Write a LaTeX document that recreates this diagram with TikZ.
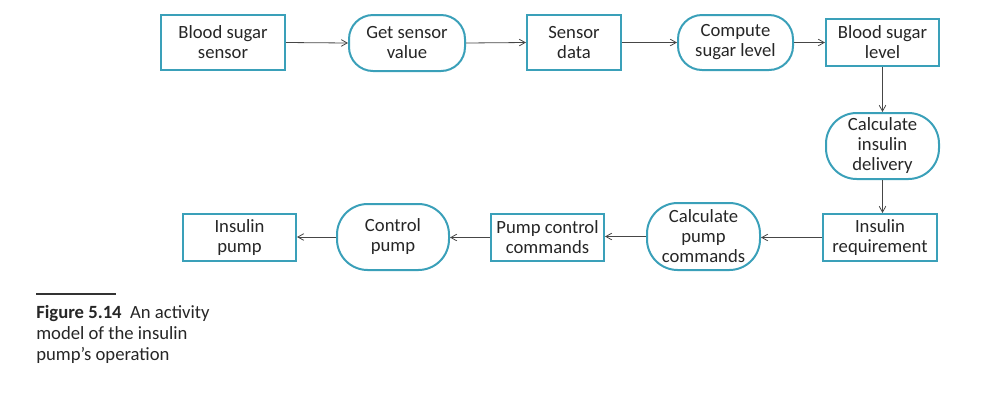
\documentclass[tikz,border=0pt]{standalone}
\usepackage{fontspec}
\setmainfont{Carlito}
\usetikzlibrary{arrows.meta}
\definecolor{boxc}{RGB}{58,160,185}
\definecolor{linec}{RGB}{70,70,70}
\begin{document}
\begin{tikzpicture}[x=0.75pt,y=-0.75pt,
  base/.style={draw=boxc,line width=1.5pt,align=center,inner sep=1pt,
    font=\fontsize{14pt}{15pt}\selectfont,text=black!85},
  datab/.style={base},
  actb/.style={base,rounded corners=18pt},
  flow/.style={draw=linec,line width=0.6pt,-{Straight Barb[length=4.5pt,width=5pt,line width=0.6pt]}}]
\useasboundingbox (0,0) rectangle (1004,401);
\node[datab,minimum width=93pt,minimum height=41.25pt] (bss) at (223,42.5) {Blood sugar\\sensor};
\node[actb,minimum width=87pt,minimum height=42pt] (gsv) at (407,43) {Get sensor\\value};
\node[datab,minimum width=70.5pt,minimum height=41.25pt] (sd) at (574,42.5) {Sensor\\data};
\node[actb,minimum width=86.25pt,minimum height=41.25pt] (csl) at (735.5,42.5) {Compute\\sugar level};
\node[datab,minimum width=84.75pt,minimum height=35.25pt] (bsl) at (882.5,42.5) {Blood sugar\\level};
\node[actb,rounded corners=23pt,minimum width=84.75pt,minimum height=49.5pt] (cid) at (882.5,146) {Calculate\\insulin\\delivery};
\node[datab,minimum width=85.5pt,minimum height=35.25pt] (ir) at (880,237.5) {Insulin\\requirement};
\node[actb,rounded corners=23pt,minimum width=84.75pt,minimum height=50.25pt] (cpc) at (703.5,236.5) {Calculate\\pump\\commands};
\node[datab,minimum width=84.75pt,minimum height=35.25pt] (pcc) at (547.5,237.5) {Pump control\\commands};
\node[actb,rounded corners=23pt,minimum width=84pt,minimum height=49.5pt] (cp) at (393,237) {Control\\pump};
\node[datab,minimum width=84.75pt,minimum height=35.25pt] (ip) at (239.5,237.5) {Insulin\\pump};
\draw[flow] (bss.east) -- (gsv.west);
\draw[flow] (gsv.east) -- (sd.west);
\draw[flow] (sd.east) -- (csl.west);
\draw[flow] (csl.east) -- (bsl.west);
\draw[flow] (bsl.south) -- (cid.north);
\draw[flow] (cid.south) -- (cid.south |- ir.north);
\draw[flow] (ir.west) -- (ir.west -| cpc.east);
\draw[flow] (cpc.west) -- (cpc.west -| pcc.east);
\draw[flow] (pcc.west) -- (pcc.west -| cp.east);
\draw[flow] (cp.west) -- (cp.west -| ip.east);
\coordinate (rl) at (36,294);
\coordinate (rr) at (116,294);
\draw[line width=0.8pt,black!80] (rl) -- (rr);
\node[anchor=north west,align=left,inner sep=0pt,font=\fontsize{14pt}{15.75pt}\selectfont,text=black!85] (cap) at (36,305)
  {\textbf{Figure 5.14}\ \ An activity\\model of the insulin\\pump’s operation};
\end{tikzpicture}
\end{document}
